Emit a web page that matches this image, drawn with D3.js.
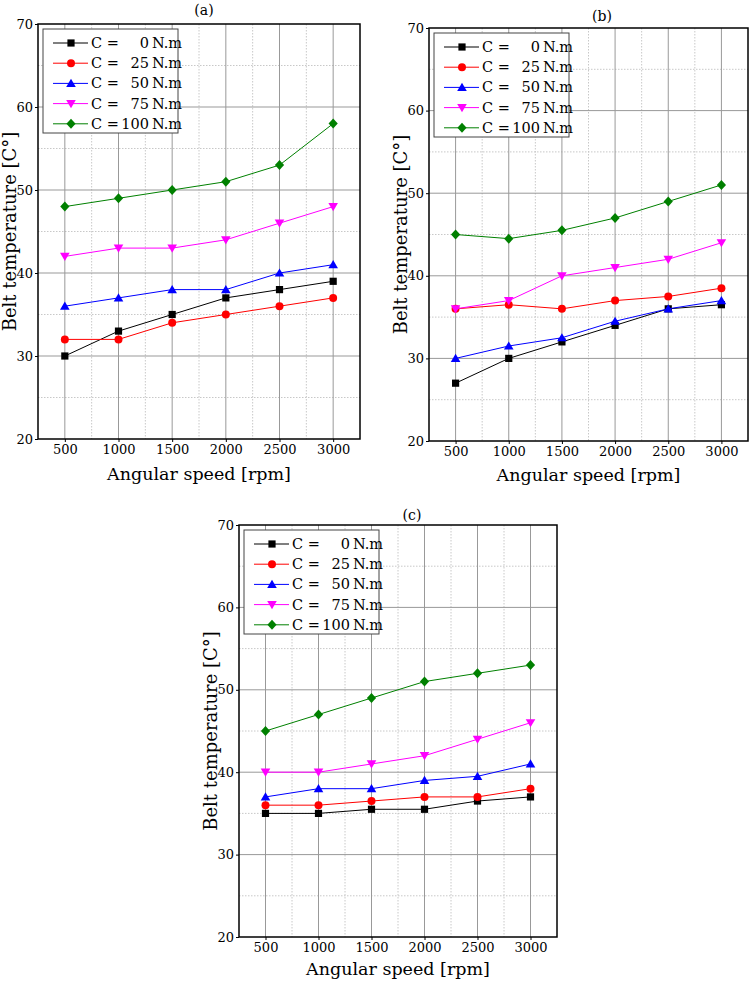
<!DOCTYPE html>
<html>
<head>
<meta charset="utf-8">
<script src="https://cdn.jsdelivr.net/npm/d3@7"></script>
<style>
  html, body { margin: 0; padding: 0; background: #fff; }
  svg { display: block; }
  text { font-family: "DejaVu Serif", "Liberation Serif", serif; fill: #000; }
</style>
</head>
<body>
<svg id="chart" width="749" height="981"></svg>
<script>
// ---------- data ----------
const speeds = [500, 1000, 1500, 2000, 2500, 3000];
const xTicks = [500, 1000, 1500, 2000, 2500, 3000];
const yTicks = [20, 30, 40, 50, 60, 70];
const seriesNames = ["C =   0 N.m", "C =  25 N.m", "C =  50 N.m", "C =  75 N.m", "C =100 N.m"];
const seriesTorque = ["0", "25", "50", "75", "100"];
const panelTitles = ["(a)", "(b)", "(c)"];

// panel (a)
const a_C0   = [30, 33, 35, 37, 38, 39];
const a_C25  = [32, 32, 34, 35, 36, 37];
const a_C50  = [36, 37, 38, 38, 40, 41];
const a_C75  = [42, 43, 43, 44, 46, 48];
const a_C100 = [48, 49, 50, 51, 53, 58];
// panel (b)
const b_C0   = [27, 30, 32, 34, 36, 36.5];
const b_C25  = [36, 36.5, 36, 37, 37.5, 38.5];
const b_C50  = [30, 31.5, 32.5, 34.5, 36, 37];
const b_C75  = [36, 37, 40, 41, 42, 44];
const b_C100 = [45, 44.5, 45.5, 47, 49, 51];
// panel (c)
const c_C0   = [35, 35, 35.5, 35.5, 36.5, 37];
const c_C25  = [36, 36, 36.5, 37, 37, 38];
const c_C50  = [37, 38, 38, 39, 39.5, 41];
const c_C75  = [40, 40, 41, 42, 44, 46];
const c_C100 = [45, 47, 49, 51, 52, 53];

const panelData = [
  [a_C0, a_C25, a_C50, a_C75, a_C100],
  [b_C0, b_C25, b_C50, b_C75, b_C100],
  [c_C0, c_C25, c_C50, c_C75, c_C100]
];

// ---------- styles / layout ----------
const colors = ["#000000", "#ff0000", "#0000ff", "#ff00ff", "#008000"];
const symbols = ["square", "circle", "triUp", "triDown", "diamond"];

const layouts = [
  { l: 38,  t: 24,  r: 360, b: 439, titleX: 204, titleY: 15,  yLabX: 16,  xLabY: 480 },
  { l: 429, t: 28,  r: 748, b: 441, titleX: 602, titleY: 21,  yLabX: 407, xLabY: 481 },
  { l: 239, t: 525, r: 557, b: 937, titleX: 412, titleY: 520, yLabX: 217, xLabY: 975 }
];

const svg = d3.select("#chart");

function markerPath(kind) {
  switch (kind) {
    case "square":  return "M-3.6,-3.6H3.6V3.6H-3.6Z";
    case "circle":  return d3.symbol(d3.symbolCircle, 50)();
    case "triUp":   return "M0,-4.6L4.8,3.6H-4.8Z";
    case "triDown": return "M0,4.6L4.8,-3.6H-4.8Z";
    case "diamond": return "M0,-5L4.6,0L0,5L-4.6,0Z";
  }
}

layouts.forEach((L, pi) => {
  const g = svg.append("g");
  const x = d3.scaleLinear().domain([250, 3250]).range([L.l, L.r]);
  const y = d3.scaleLinear().domain([20, 70]).range([L.b, L.t]);

  // minor grid
  const xMinor = d3.range(750, 3250, 500);
  const yMinor = d3.range(25, 70, 10);
  g.selectAll(".xminor").data(xMinor).join("line")
    .attr("x1", d => x(d)).attr("x2", d => x(d)).attr("y1", L.t).attr("y2", L.b)
    .attr("stroke", "#c8c8c8").attr("stroke-width", 1).attr("stroke-dasharray", "1.5,1.5");
  g.selectAll(".yminor").data(yMinor).join("line")
    .attr("y1", d => y(d)).attr("y2", d => y(d)).attr("x1", L.l).attr("x2", L.r)
    .attr("stroke", "#c8c8c8").attr("stroke-width", 1).attr("stroke-dasharray", "1.5,1.5");
  // major grid
  g.selectAll(".xmajor").data(xTicks).join("line")
    .attr("x1", d => x(d)).attr("x2", d => x(d)).attr("y1", L.t).attr("y2", L.b)
    .attr("stroke", "#999").attr("stroke-width", 1);
  g.selectAll(".ymajor").data(yTicks.filter(v => v > 20 && v < 70)).join("line")
    .attr("y1", d => y(d)).attr("y2", d => y(d)).attr("x1", L.l).attr("x2", L.r)
    .attr("stroke", "#999").attr("stroke-width", 1);

  // axes
  const xAxis = d3.axisBottom(x).tickValues(xTicks).tickSize(3).tickPadding(3).tickFormat(d3.format("d"));
  const yAxis = d3.axisLeft(y).tickValues(yTicks).tickSize(3).tickPadding(2).tickFormat(d3.format("d"));
  const gx = g.append("g").attr("transform", `translate(0,${L.b})`).call(xAxis);
  const gy = g.append("g").attr("transform", `translate(${L.l},0)`).call(yAxis);
  [gx, gy].forEach(ax => {
    ax.attr("font-family", null).attr("font-size", null);
    ax.select(".domain").remove();
    ax.selectAll("text").style("font-family", '"DejaVu Serif", serif').style("font-size", "13px");
    ax.selectAll("line").attr("stroke", "#000");
  });

  // frame
  g.append("rect").attr("x", L.l).attr("y", L.t).attr("width", L.r - L.l).attr("height", L.b - L.t)
    .attr("fill", "none").attr("stroke", "#000").attr("stroke-width", 1.5);

  // series
  panelData[pi].forEach((vals, si) => {
    const pts = speeds.map((s, i) => [s, vals[i]]);
    g.append("path").datum(pts)
      .attr("d", d3.line().x(d => x(d[0])).y(d => y(d[1])))
      .attr("fill", "none").attr("stroke", colors[si]).attr("stroke-width", 1);
    g.selectAll(".m" + si).data(pts).join("path")
      .attr("transform", d => `translate(${x(d[0])},${y(d[1])})`)
      .attr("d", markerPath(symbols[si]))
      .attr("fill", colors[si]);
  });

  // legend
  const lg = g.append("g").attr("transform", `translate(${L.l + 5},${L.t + 5})`);
  lg.append("rect").attr("x", 0).attr("y", 0).attr("width", 135).attr("height", 104)
    .attr("fill", "#fff").attr("stroke", "#444").attr("stroke-width", 1);
  seriesNames.forEach((name, si) => {
    const ry = 14 + si * 20.2;
    const row = lg.append("g").attr("transform", `translate(0,${ry})`);
    row.append("line").attr("x1", 10).attr("x2", 45).attr("y1", 0).attr("y2", 0)
      .attr("stroke", colors[si]).attr("stroke-width", 1);
    row.append("path").attr("transform", "translate(28,0)").attr("d", markerPath(symbols[si]))
      .attr("fill", colors[si]);
    row.append("text").attr("x", 48).attr("y", 5).style("font-size", "14.5px").text("C =");
    row.append("text").attr("x", 106).attr("y", 5).attr("text-anchor", "end").style("font-size", "14.5px")
      .text(seriesTorque[si]);
    row.append("text").attr("x", 109).attr("y", 5).style("font-size", "14.5px").text("N.m");
  });

  // titles & labels
  g.append("text").attr("x", L.titleX).attr("y", L.titleY).attr("text-anchor", "middle")
    .style("font-size", "14px").text(panelTitles[pi]);
  g.append("text").attr("x", (L.l + L.r) / 2).attr("y", L.xLabY).attr("text-anchor", "middle")
    .style("font-size", "17.5px").text("Angular speed [rpm]");
  g.append("text")
    .attr("transform", `translate(${L.yLabX},${(L.t + L.b) / 2}) rotate(-90)`)
    .attr("text-anchor", "middle").style("font-size", "18px").text("Belt temperature [C°]");
});
</script>
</body>
</html>
